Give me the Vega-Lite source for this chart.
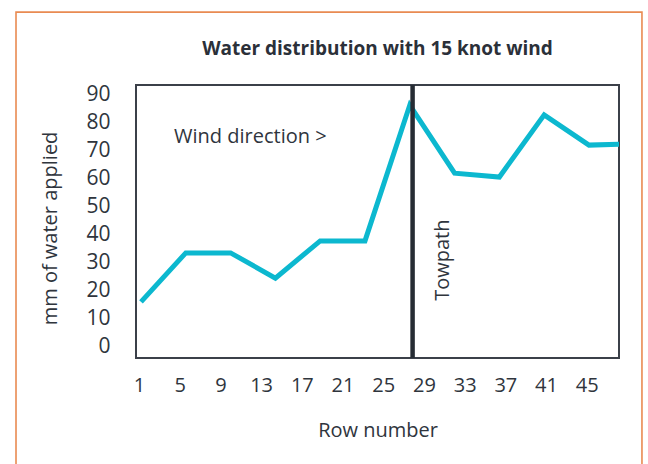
{
  "$schema": "https://vega.github.io/schema/vega-lite/v6.json",
  "width": 483,
  "height": 273,
  "autosize": {"type": "none"},
  "padding": {"left": 136, "top": 85, "right": 29, "bottom": 106},
  "background": "white",
  "title": {
    "text": "Water distribution with 15 knot wind",
    "fontSize": 19,
    "fontWeight": "bold",
    "font": "Open Sans",
    "color": "#2b3039",
    "offset": -48,
    "anchor": "middle",
    "frame": "group"
  },
  "config": {
    "view": {"stroke": "#3b4049", "strokeWidth": 2},
    "font": "Open Sans",
    "axisY": {
      "domain": false,
      "ticks": false,
      "tickSize": 0,
      "grid": false,
      "labelOverlap": false,
      "labelFontSize": 21,
      "labelColor": "#2f353d",
      "labelPadding": 26,
      "titleFontSize": 20,
      "titleFontWeight": "normal",
      "titleColor": "#2f353d",
      "titlePadding": 25,
      "titleY": 143
    }
  },
  "datasets": {
    "water": [
      {"row": 1, "mm": 16.1},
      {"row": 5, "mm": 33.6},
      {"row": 9, "mm": 33.6},
      {"row": 13, "mm": 24.6},
      {"row": 17, "mm": 37.9},
      {"row": 21, "mm": 37.9},
      {"row": 25, "mm": 86.4},
      {"row": 29, "mm": 62.1},
      {"row": 33, "mm": 60.7},
      {"row": 37, "mm": 82.9},
      {"row": 41, "mm": 72.1},
      {"row": 45, "mm": 72.6}
    ],
    "labels": [
      {"lbl": 1}, {"lbl": 5}, {"lbl": 9}, {"lbl": 13}, {"lbl": 17}, {"lbl": 21},
      {"lbl": 25}, {"lbl": 29}, {"lbl": 33}, {"lbl": 37}, {"lbl": 41}, {"lbl": 45}
    ],
    "one": [{"note": "annotation"}]
  },
  "layer": [
    {
      "layer": [
        {
          "data": {"name": "water"},
          "mark": {"type": "line", "color": "#0cb8cf", "strokeWidth": 5, "clip": true, "strokeJoin": "miter"},
          "encoding": {
            "x": {"field": "row", "type": "quantitative", "scale": {"domain": [0.554, 43.68], "nice": false, "zero": false}, "axis": null},
            "y": {
              "field": "mm",
              "type": "quantitative",
              "scale": {"domain": [-3.93, 93.57], "nice": false, "zero": false},
              "axis": {"values": [0, 10, 20, 30, 40, 50, 60, 70, 80, 90], "title": "mm of water applied"}
            }
          }
        },
        {
          "data": {"name": "one"},
          "mark": {"type": "rect", "fill": null, "fillOpacity": 0, "stroke": "#e98b52", "strokeWidth": 1.6},
          "encoding": {
            "x": {"datum": -10.16, "type": "quantitative", "axis": null},
            "x2": {"datum": 45.73},
            "y": {"datum": 119.6, "type": "quantitative", "axis": {"values": [0, 10, 20, 30, 40, 50, 60, 70, 80, 90], "title": "mm of water applied"}},
            "y2": {"datum": -47.5}
          }
        },
        {
          "data": {"name": "one"},
          "mark": {"type": "rule", "color": "#262c34", "strokeWidth": 4.5},
          "encoding": {
            "x": {"datum": 25.25, "type": "quantitative", "axis": null}
          }
        },
        {
          "data": {"name": "one"},
          "mark": {"type": "text", "fontSize": 20, "fontWeight": "normal", "color": "#2f353d", "align": "left", "baseline": "middle"},
          "encoding": {
            "x": {"datum": 3.95, "type": "quantitative", "axis": null},
            "y": {"datum": 75, "type": "quantitative", "axis": {"values": [0, 10, 20, 30, 40, 50, 60, 70, 80, 90], "title": "mm of water applied"}},
            "text": {"value": "Wind direction >"}
          }
        },
        {
          "data": {"name": "one"},
          "mark": {"type": "text", "fontSize": 20, "fontWeight": "normal", "color": "#2f353d", "align": "center", "baseline": "middle", "angle": 270},
          "encoding": {
            "x": {"datum": 27.96, "type": "quantitative", "axis": null},
            "y": {"datum": 31, "type": "quantitative", "axis": {"values": [0, 10, 20, 30, 40, 50, 60, 70, 80, 90], "title": "mm of water applied"}},
            "text": {"value": "Towpath"}
          }
        }
      ]
    },
    {
      "data": {"name": "labels"},
      "mark": {"type": "tick", "opacity": 0},
      "encoding": {
        "x": {
          "field": "lbl",
          "type": "quantitative",
          "scale": {"domain": [0.705, 48.17], "nice": false, "zero": false},
          "axis": {
            "orient": "bottom",
            "values": [1, 5, 9, 13, 17, 21, 25, 29, 33, 37, 41, 45],
            "domain": false,
            "ticks": false,
            "tickSize": 0,
            "grid": false,
            "labelOverlap": false,
            "labelFontSize": 20,
            "labelColor": "#2f353d",
            "labelPadding": 17,
            "title": "Row number",
            "titleFontSize": 20,
            "titleFontWeight": "normal",
            "titleColor": "#2f353d",
            "titlePadding": 25
          }
        }
      }
    }
  ],
  "resolve": {"scale": {"x": "independent"}, "axis": {"x": "independent"}}
}
